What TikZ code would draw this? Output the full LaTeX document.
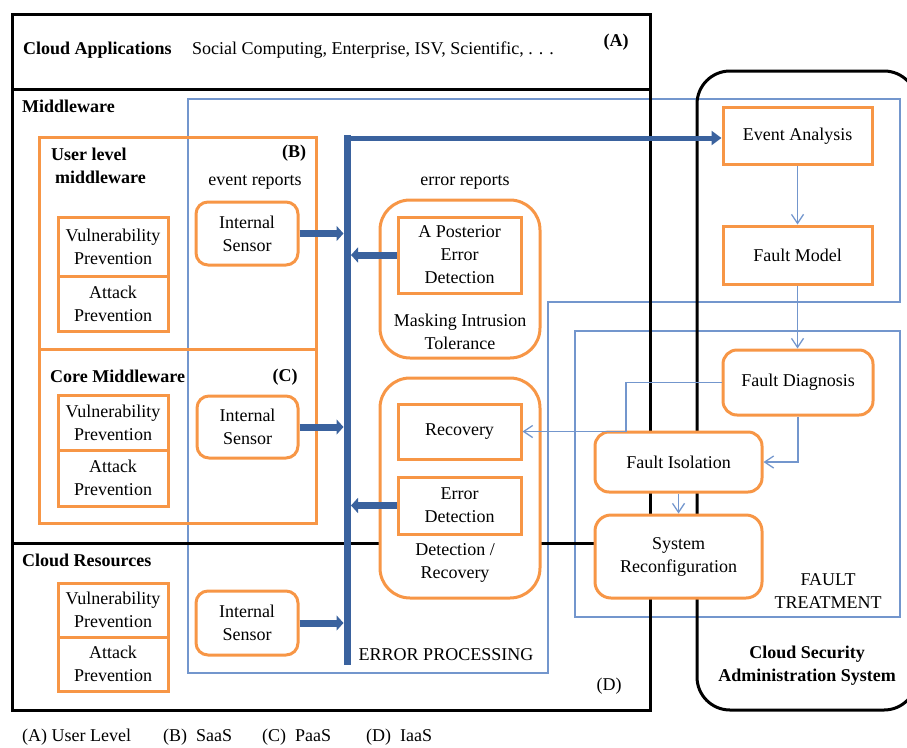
\documentclass[tikz,border=0pt]{standalone}
\usepackage{fontspec}
\setmainfont{Liberation Serif}
\usetikzlibrary{arrows.meta}
\definecolor{boxorange}{RGB}{247,150,70}
\definecolor{busblue}{RGB}{58,98,158}
\definecolor{linkblue}{RGB}{115,150,205}

\begin{document}
\begin{tikzpicture}[x=1pt,y=-1pt,
  every node/.style={font=\fontsize{18}{23}\selectfont, inner sep=0pt, align=center},
  hb/.style={font=\fontsize{18}{23}\selectfont\bfseries},
  sq/.style={draw=boxorange, line width=3pt},
  sqw/.style={sq, fill=white},
  rd/.style={sq, fill=white, rounded corners=#1},
  rd/.default=12pt,
  frame/.style={draw=black, line width=3pt},
  region/.style={draw=linkblue, line width=1.2pt},
  link/.style={draw=linkblue, line width=1.3pt, -{Straight Barb[length=9pt,width=12pt]}},
  thickarrow/.style={draw=busblue, line width=7pt, -{Triangle[length=7pt,width=15pt]}}]

\useasboundingbox (0,0) rectangle (907,747);

% error processing and fault treatment regions
\draw[region] (188,99) -- (900,99) -- (900,302) -- (548,302) -- (548,673) -- (188,673) -- cycle;
\draw[region] (575,331) rectangle (900,617);

% cloud layers
\draw[frame] (12,14) rectangle (650,710);
\draw[frame] (12,89) -- (650,89);
\draw[frame] (12,543) -- (650,543);

% administration system frame
\begin{scope}
  \clip (0,0) rectangle (907,747);
  \draw[frame, rounded corners=33pt] (697,71) rectangle (917,710);
\end{scope}

% layer titles
\node[hb, anchor=west] (capps) at (23,50) {Cloud Applications};
\node[anchor=west] (capex) at (192,50) {Social Computing, Enterprise, ISV, Scientific, . . .};
\node[hb] (alab) at (616,42) {(A)};
\node[hb, anchor=west] (mw) at (22,106) {Middleware};
\node[hb, anchor=west] (cres) at (22,560) {Cloud Resources};

% middleware sub-layers
\node[sq, minimum width=277pt, minimum height=212pt] (ulm) at (177.5,243) {};
\node[sq, minimum width=277pt, minimum height=174pt] (core) at (177.5,436) {};
\node[hb, anchor=west, align=left] (ulmlab) at (51,165.5) {User level\\\hspace{4pt}middleware};
\node[hb] (blab) at (294,153) {(B)};
\node[hb, anchor=west] (corelab) at (50,376) {Core Middleware};
\node[hb] (clab) at (285,377) {(C)};
\node (evrep) at (255,182) {event reports};
\node (errrep) at (465,182) {error reports};

% prevention boxes
\node[sq, minimum width=110pt, minimum height=59pt] (vp1) at (113,246.5) {Vulnerability\\Prevention};
\node[sq, minimum width=110pt, minimum height=55pt] (ap1) at (113,303.5) {Attack\\Prevention};
\node[sq, minimum width=110pt, minimum height=55pt] (vp2) at (113,422.5) {Vulnerability\\Prevention};
\node[sq, minimum width=110pt, minimum height=56pt] (ap2) at (113,478) {Attack\\Prevention};
\node[sq, minimum width=110pt, minimum height=54pt] (vp3) at (113,610) {Vulnerability\\Prevention};
\node[sq, minimum width=110pt, minimum height=54pt] (ap3) at (113,664) {Attack\\Prevention};

% internal sensors
\node[rd, minimum width=102pt, minimum height=63pt] (is1) at (247,233.5) {Internal\\Sensor};
\node[rd, minimum width=101pt, minimum height=62pt] (is2) at (247.5,427) {Internal\\Sensor};
\node[rd, minimum width=102pt, minimum height=64pt] (is3) at (247,623) {Internal\\Sensor};

% error processing groups
\node[rd=30pt, minimum width=160pt, minimum height=158pt] (mask) at (460,279) {};
\node[sqw, minimum width=123pt, minimum height=76pt] (ape) at (459.5,255) {A Posterior\\Error\\Detection};
\node (masklab) at (460,331.5) {Masking Intrusion\\Tolerance};
\node[rd=30pt, minimum width=160pt, minimum height=220pt] (detrec) at (460,488) {};
\node[sqw, minimum width=123pt, minimum height=55pt] (rec) at (459.5,431.5) {Recovery};
\node[sqw, minimum width=123pt, minimum height=57pt] (errdet) at (459.5,505.5) {Error\\Detection};
\node (detreclab) at (455,563) {Detection /\\Recovery};
\node (eplab) at (446,655) {ERROR PROCESSING};
\node (dlab) at (609,686) {(D)};

% fault treatment chain
\node[sqw, minimum width=149pt, minimum height=57pt] (ea) at (797.5,136) {Event Analysis};
\node[sqw, minimum width=149pt, minimum height=58pt] (fm) at (797.5,255) {Fault Model};
\node[rd=14pt, minimum width=150pt, minimum height=65pt] (fd) at (798,382.5) {Fault Diagnosis};
\node[rd=14pt, minimum width=167pt, minimum height=60pt] (fi) at (678.5,462) {Fault Isolation};
\node[rd=16pt, minimum width=167pt, minimum height=83pt] (sr) at (678.5,556.5) {System\\Reconfiguration};
\node (ftlab) at (828,591) {FAULT\\TREATMENT};
\node[hb] (cslab) at (807,666) {Cloud Security\\Administration System};

% report bus
\coordinate (bustop) at (347,138);
\coordinate (busbot) at (347,661);
\draw[busblue, line width=7pt, line cap=rect] (busbot) -- (bustop);
\draw[busblue, line width=5pt, -{Triangle[length=10pt,width=14pt]}] (bustop) -- (bustop -| ea.west);

% sensor reports into the bus, error reports out of the detectors
\draw[thickarrow] (is1.east) -- (is1.east -| 343.5,0);
\draw[thickarrow] (is2.east) -- (is2.east -| 343.5,0);
\draw[thickarrow] (is3.east) -- (is3.east -| 343.5,0);
\draw[thickarrow] (ape.west) -- (ape.west -| 351,0);
\draw[thickarrow] (errdet.west) -- (errdet.west -| 351,0);

% fault treatment links
\coordinate (recturn) at (626,431.5);
\draw[link] (ea.south) -- (fm.north);
\draw[link] (fm.south) -- (fm.south |- fd.north);
\draw[link] (fd.south) |- (fi.east);
\draw[link] (fi.south) -- (sr.north);
\draw[link] (fd.west) -| (recturn) -- (rec.east);

% legend
\node[anchor=west] (lega) at (22,737) {(A) User Level};
\node[anchor=west] (legb) at (163,737) {(B)\ \ SaaS};
\node[anchor=west] (legc) at (262,737) {(C)\ \ PaaS};
\node[anchor=west] (legd) at (366,737) {(D)\ \ IaaS};
\end{tikzpicture}
\end{document}
